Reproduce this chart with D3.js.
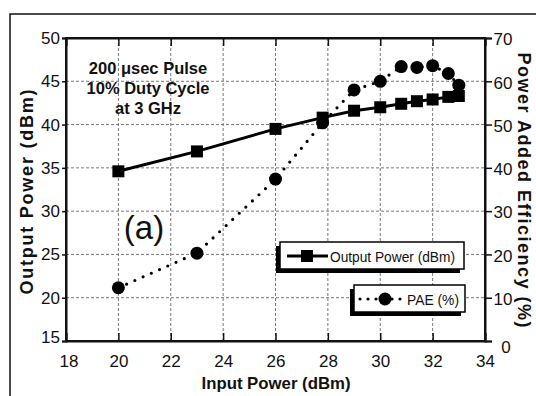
<!DOCTYPE html>
<html><head><meta charset="utf-8">
<script src="https://cdn.jsdelivr.net/npm/d3@7"></script>
<style>
body{margin:0;background:#fff;}
text{font-family:Arial,"Liberation Sans",sans-serif;}
</style></head>
<body><svg id="c" width="536" height="396"></svg>
<script>
const inputPower = [20, 23, 26, 27.8, 29, 30, 30.8, 31.4, 32, 32.6, 33];
const outputPower = [34.6, 36.9, 39.5, 40.8, 41.6, 42.0, 42.4, 42.7, 42.9, 43.2, 43.3];
const pae = [12.3, 20.3, 37.4, 50.4, 58.0, 60.0, 63.4, 63.2, 63.6, 61.8, 59.1];
const xTicks = [18, 20, 22, 24, 26, 28, 30, 32, 34];
const yLeftTicks = [15, 20, 25, 30, 35, 40, 45, 50];
const yRightTicks = [0, 10, 20, 30, 40, 50, 60, 70];
const annotation = ["200 \u03bcsec Pulse", "10% Duty Cycle", "at 3 GHz"];

const svg = d3.select("#c");
const L = 66, R = 485, T = 38, B = 341;
const x = d3.scaleLinear().domain([18, 34]).range([L, R]);
const yL = d3.scaleLinear().domain([15, 50]).range([B, T]);
const yR = d3.scaleLinear().domain([0, 70]).range([B, T]);

svg.append("rect").attr("width", 536).attr("height", 396).attr("fill", "#fff");
// outer frame
svg.append("rect").attr("x", 10).attr("y", 14).attr("width", 600).attr("height", 500)
  .attr("fill", "none").attr("stroke", "#111").attr("stroke-width", 1.5);

// grid
const g = svg.append("g");
g.selectAll(".vg").data(xTicks.slice(1, -1)).join("line")
  .attr("x1", d => x(d)).attr("x2", d => x(d)).attr("y1", T).attr("y2", B)
  .attr("stroke", "#777").attr("stroke-width", 1).attr("stroke-dasharray", "3,2");
g.selectAll(".hg").data(yLeftTicks.slice(1, -1)).join("line")
  .attr("y1", d => yL(d)).attr("y2", d => yL(d)).attr("x1", L).attr("x2", R)
  .attr("stroke", "#777").attr("stroke-width", 1).attr("stroke-dasharray", "3,2");

// axes
const fs = "17px";
const ax = svg.append("g").attr("transform", `translate(0,${B})`)
  .call(d3.axisBottom(x).tickValues(xTicks).tickSize(-8).tickPadding(14).tickFormat(d3.format("d")));
const axTop = svg.append("g").attr("transform", `translate(0,${T})`)
  .call(d3.axisTop(x).tickValues(xTicks).tickSize(-8).tickFormat(""));
const ayL = svg.append("g").attr("transform", `translate(${L},0)`)
  .call(d3.axisLeft(yL).tickValues(yLeftTicks).tickSize(4).tickPadding(2).tickFormat(d3.format("d")));
const ayR = svg.append("g").attr("transform", `translate(${R},0)`)
  .call(d3.axisRight(yR).tickValues(yRightTicks).tickSize(7).tickPadding(4).tickFormat(d3.format("d")));
[ax, axTop, ayL, ayR].forEach(a => {
  a.selectAll(".domain").attr("stroke", "#111").attr("stroke-width", 2);
  a.selectAll(".tick line").attr("stroke", "#111").attr("stroke-width", 1.5);
  a.selectAll("text").attr("font-size", fs).attr("fill", "#111")
    .attr("font-family", "Arial, 'Liberation Sans', sans-serif");
});
ayR.selectAll("text").attr("text-anchor", "middle").attr("x", 18).attr("dy", "0.4em");
ayR.selectAll(".tick").filter(d => d === 0).select("text").attr("dy", "0.7em").attr("x", 21);
ayL.selectAll(".tick").filter(d => d === 15).select("text").attr("dy", "0.1em");
ax.selectAll(".tick").filter(d => d === 18).select("text").attr("dx", "0.15em");
// plot border
svg.append("rect").attr("x", L).attr("y", T).attr("width", R - L).attr("height", B - T)
  .attr("fill", "none").attr("stroke", "#111").attr("stroke-width", 2);

// series
const lineOut = d3.line().x((d, i) => x(inputPower[i])).y(d => yL(d));
svg.append("path").datum(outputPower).attr("d", lineOut)
  .attr("fill", "none").attr("stroke", "#000").attr("stroke-width", 3);
const linePae = d3.line().x((d, i) => x(inputPower[i])).y(d => yR(d));
svg.append("path").datum(pae).attr("d", linePae)
  .attr("fill", "none").attr("stroke", "#000").attr("stroke-width", 3.2)
  .attr("stroke-linecap", "round").attr("stroke-dasharray", "0,9");
svg.selectAll(".sq").data(outputPower).join("rect")
  .attr("x", (d, i) => x(inputPower[i]) - 6).attr("y", d => yL(d) - 6)
  .attr("width", 12).attr("height", 12).attr("fill", "#000");
svg.selectAll(".ci").data(pae).join("circle")
  .attr("cx", (d, i) => x(inputPower[i])).attr("cy", d => yR(d)).attr("r", 6.5).attr("fill", "#000");

// annotation
svg.append("g").selectAll("text").data(annotation).join("text")
  .attr("x", 148).attr("y", (d, i) => 74 + i * 20)
  .attr("text-anchor", "middle").attr("font-size", "16.5px").attr("font-weight", "bold")
  .attr("fill", "#111").text(d => d);
svg.append("text").attr("x", 144).attr("y", 239).attr("text-anchor", "middle")
  .attr("font-size", "33px").attr("fill", "#111").text("(a)");

// axis titles
svg.append("text").attr("x", 276).attr("y", 389).attr("text-anchor", "middle")
  .attr("font-size", "17px").attr("font-weight", "bold").attr("fill", "#111")
  .attr("textLength", 149).attr("lengthAdjust", "spacingAndGlyphs").text("Input Power (dBm)");
svg.append("text").attr("transform", "translate(33,192) rotate(-90)").attr("text-anchor", "middle")
  .attr("font-size", "18px").attr("font-weight", "bold").attr("fill", "#111")
  .attr("textLength", 205).attr("lengthAdjust", "spacing").text("Output Power (dBm)");
svg.append("text").attr("transform", "translate(518,190) rotate(90)").attr("text-anchor", "middle")
  .attr("font-size", "18px").attr("font-weight", "bold").attr("fill", "#111")
  .attr("textLength", 275).attr("lengthAdjust", "spacing").text("Power Added Efficiency (%)");

// legend
function legendBox(x0, y0, w, h) {
  svg.append("rect").attr("x", x0 - 4).attr("y", y0 + 4).attr("width", w).attr("height", h).attr("fill", "#000");
  svg.append("rect").attr("x", x0).attr("y", y0).attr("width", w).attr("height", h)
    .attr("fill", "#fff").attr("stroke", "#000").attr("stroke-width", 1.5);
}
legendBox(280, 242, 184, 27);
svg.append("line").attr("x1", 287).attr("x2", 328).attr("y1", 256).attr("y2", 256)
  .attr("stroke", "#000").attr("stroke-width", 3);
svg.append("rect").attr("x", 301).attr("y", 250).attr("width", 12).attr("height", 12).attr("fill", "#000");
svg.append("text").attr("x", 330).attr("y", 262).attr("font-size", "14.5px").attr("fill", "#111")
  .attr("textLength", 125).attr("lengthAdjust", "spacingAndGlyphs").text("Output Power (dBm)");
legendBox(354, 285, 111, 27);
svg.append("line").attr("x1", 360).attr("x2", 404).attr("y1", 299).attr("y2", 299)
  .attr("stroke", "#000").attr("stroke-width", 3.2).attr("stroke-linecap", "round").attr("stroke-dasharray", "0,8");
svg.append("circle").attr("cx", 385).attr("cy", 299).attr("r", 6.5).attr("fill", "#000");
svg.append("text").attr("x", 407).attr("y", 305).attr("font-size", "14.5px").attr("fill", "#111")
  .attr("textLength", 52).attr("lengthAdjust", "spacingAndGlyphs").text("PAE (%)");
</script></body></html>
